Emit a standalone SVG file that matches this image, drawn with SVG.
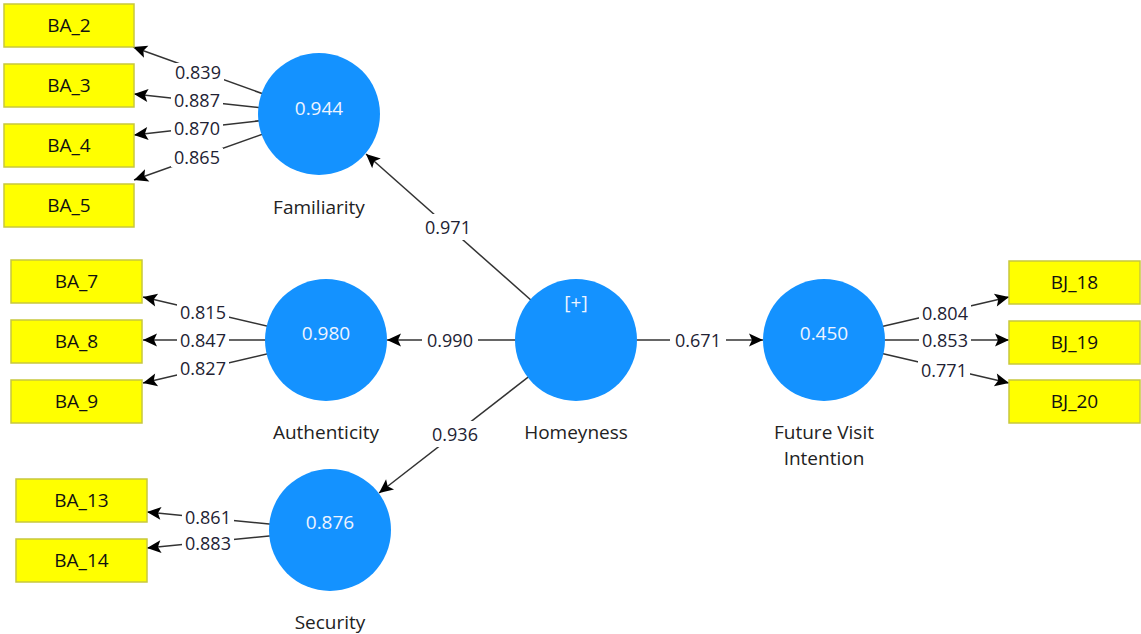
<svg xmlns="http://www.w3.org/2000/svg" width="1141" height="634" viewBox="0 0 1141 634">
<style>
.bg{fill:#ffffff}
.box rect{fill:#ffff00;stroke:#c8c83c;stroke-width:1.5}
.box text{font-family:"Open Sans","Liberation Sans",sans-serif;font-size:19px;fill:#111111;text-anchor:middle}
.lv circle{fill:#1492ff}
.lv .val{font-family:"Open Sans","Liberation Sans",sans-serif;font-size:19px;fill:#eef4ff;text-anchor:middle}
.lv .name{font-family:"Open Sans","Liberation Sans",sans-serif;font-size:19px;fill:#222222;text-anchor:middle}
.edge line{stroke:#333333;stroke-width:1.5;marker-end:url(#arr)}
.lbl rect{fill:#ffffff}
.lbl text{font-family:"Open Sans","Liberation Sans",sans-serif;font-size:18px;fill:#222233;text-anchor:middle}
</style>
<defs>
<marker id="arr" markerUnits="userSpaceOnUse" orient="auto" refX="0" refY="0" markerWidth="20" markerHeight="20" viewBox="-16 -10 20 20" overflow="visible">
<path d="M0,0 L-14,-6.5 L-11,0 L-14,6.5 Z" fill="#000000"/>
</marker>
</defs>
<rect class="bg" x="0" y="0" width="1141" height="634"/>
<g id="connectors">
<g class="edge">
<line x1="319" y1="114" x2="133" y2="47"/>
<line x1="319" y1="114" x2="134" y2="94"/>
<line x1="319" y1="114" x2="134" y2="135"/>
<line x1="319" y1="114" x2="134" y2="180"/>
<line x1="326" y1="340" x2="143" y2="297"/>
<line x1="326" y1="340" x2="143" y2="340"/>
<line x1="326" y1="340" x2="143" y2="383"/>
<line x1="330" y1="530" x2="147" y2="512"/>
<line x1="330" y1="530" x2="147" y2="548"/>
<line x1="576" y1="340" x2="366" y2="154"/>
<line x1="576" y1="340" x2="387" y2="340"/>
<line x1="576" y1="340" x2="379" y2="493"/>
<line x1="576" y1="340" x2="763" y2="340"/>
<line x1="824" y1="340" x2="1009" y2="297"/>
<line x1="824" y1="340" x2="1009" y2="340"/>
<line x1="824" y1="340" x2="1009" y2="383"/>
</g>
<g class="lbl">
<rect x="172" y="63" width="52" height="19"/><text x="198" y="79">0.839</text>
<rect x="171" y="91" width="52" height="19"/><text x="197" y="107">0.887</text>
<rect x="171" y="119" width="52" height="19"/><text x="197" y="135">0.870</text>
<rect x="171" y="148" width="52" height="19"/><text x="197" y="164">0.865</text>
<rect x="177" y="303" width="52" height="19"/><text x="203" y="319">0.815</text>
<rect x="177" y="331" width="52" height="19"/><text x="203" y="347">0.847</text>
<rect x="177" y="359" width="52" height="19"/><text x="203" y="375">0.827</text>
<rect x="182" y="508" width="52" height="19"/><text x="208" y="524">0.861</text>
<rect x="182" y="534" width="52" height="19"/><text x="208" y="550">0.883</text>
<rect x="419" y="214" width="58" height="26"/><text x="448" y="234">0.971</text>
<rect x="422" y="329" width="56" height="22"/><text x="450" y="347">0.990</text>
<rect x="426" y="421" width="58" height="26"/><text x="455" y="441">0.936</text>
<rect x="670" y="329" width="56" height="22"/><text x="698" y="347">0.671</text>
<rect x="919" y="304" width="52" height="19"/><text x="945" y="320">0.804</text>
<rect x="919" y="331" width="52" height="19"/><text x="945" y="347">0.853</text>
<rect x="918" y="361" width="52" height="19"/><text x="944" y="377">0.771</text>
</g>
</g>
<g id="BA_2" class="box"><rect x="4" y="4" width="130" height="43"/><text x="69" y="32">BA_2</text></g>
<g id="BA_3" class="box"><rect x="4" y="64" width="130" height="43"/><text x="69" y="92">BA_3</text></g>
<g id="BA_4" class="box"><rect x="4" y="124" width="130" height="43"/><text x="69" y="152">BA_4</text></g>
<g id="BA_5" class="box"><rect x="4" y="184" width="130" height="43"/><text x="69" y="212">BA_5</text></g>
<g id="BA_7" class="box"><rect x="11" y="260" width="131" height="43"/><text x="76.5" y="288">BA_7</text></g>
<g id="BA_8" class="box"><rect x="11" y="320" width="131" height="43"/><text x="76.5" y="348">BA_8</text></g>
<g id="BA_9" class="box"><rect x="11" y="380" width="131" height="43"/><text x="76.5" y="408">BA_9</text></g>
<g id="BA_13" class="box"><rect x="16" y="479" width="131" height="43"/><text x="81.5" y="507">BA_13</text></g>
<g id="BA_14" class="box"><rect x="16" y="539" width="131" height="43"/><text x="81.5" y="567">BA_14</text></g>
<g id="BJ_18" class="box"><rect x="1009" y="261" width="131" height="43"/><text x="1074.5" y="289">BJ_18</text></g>
<g id="BJ_19" class="box"><rect x="1009" y="321" width="131" height="43"/><text x="1074.5" y="349">BJ_19</text></g>
<g id="BJ_20" class="box"><rect x="1009" y="380" width="131" height="43"/><text x="1074.5" y="408">BJ_20</text></g>
<g id="Familiarity" class="lv"><circle cx="319" cy="114" r="61"/><text class="val" x="319" y="115">0.944</text><text class="name" x="319" y="214">Familiarity</text></g>
<g id="Authenticity" class="lv"><circle cx="326" cy="340" r="61"/><text class="val" x="326" y="340">0.980</text><text class="name" x="326" y="439">Authenticity</text></g>
<g id="Security" class="lv"><circle cx="330" cy="530" r="61"/><text class="val" x="330" y="529">0.876</text><text class="name" x="330" y="629">Security</text></g>
<g id="Homeyness" class="lv"><circle cx="576" cy="340" r="61"/><text class="val" x="576" y="309">[+]</text><text class="name" x="576" y="439">Homeyness</text></g>
<g id="FutureVisitIntention" class="lv"><circle cx="824" cy="340" r="61"/><text class="val" x="824" y="340">0.450</text><text class="name" x="824" y="439">Future Visit</text><text class="name" x="824" y="465">Intention</text></g>
</svg>
